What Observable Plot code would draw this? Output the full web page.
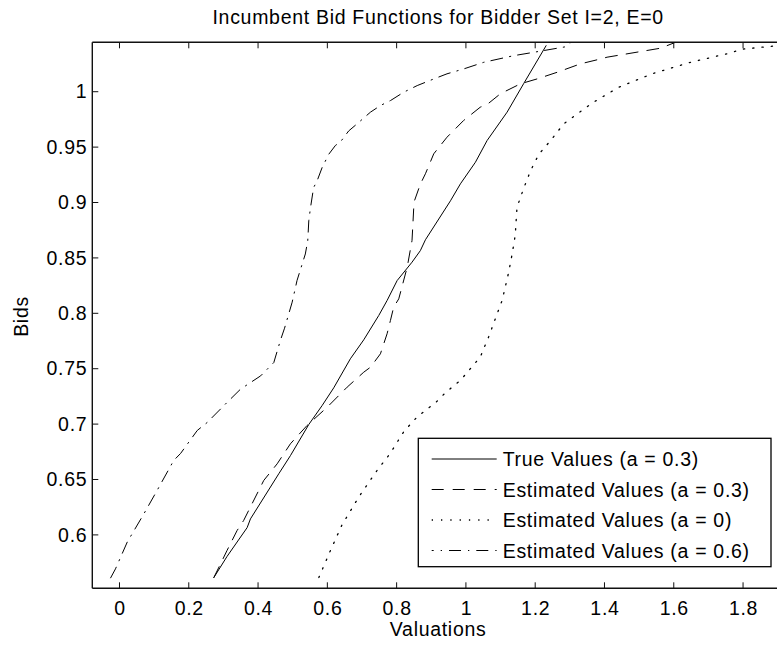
<!DOCTYPE html>
<html>
<head>
<meta charset="utf-8">
<script src="https://cdn.jsdelivr.net/npm/d3@7"></script>
<script src="https://cdn.jsdelivr.net/npm/@observablehq/plot@0.6"></script>
<style>
  html, body { margin: 0; padding: 0; background: white; }
  svg text { letter-spacing: 0.7px; }
</style>
</head>
<body>
<div id="chart"></div>
<script>
const titleText = "Incumbent Bid Functions for Bidder Set I=2, E=0";
const xLabel = "Valuations";
const yLabel = "Bids";
const xTicks = [0, 0.2, 0.4, 0.6, 0.8, 1, 1.2, 1.4, 1.6, 1.8];
const yTicks = [0.6, 0.65, 0.7, 0.75, 0.8, 0.85, 0.9, 0.95, 1];
const xDomain = [-0.0785, 1.898];
const yDomain = [0.5518, 1.0446];

const seriesNames = ["True Values (a = 0.3)", "Estimated Values (a = 0.3)", "Estimated Values (a = 0)", "Estimated Values (a = 0.6)"];
const seriesDash = ["none", "12,9", "1.3,8", "12,7,1.3,7"];
const seriesWidth = [1, 1, 1.3, 1];
const legendDashOffset = [0, 0, 0, 10];

const trueX = [0.271, 0.309, 0.367, 0.3766, 0.4583, 0.492, 0.545, 0.5835, 0.617, 0.665, 0.7036, 0.747, 0.771, 0.800, 0.843, 0.867, 0.8817, 0.954, 0.9827, 1.026, 1.0597, 1.1174, 1.165, 1.230];
const trueY = [0.562, 0.581, 0.607, 0.6149, 0.6556, 0.672, 0.7001, 0.7172, 0.7332, 0.7594, 0.7765, 0.7985, 0.812, 0.830, 0.8466, 0.857, 0.8668, 0.902, 0.9173, 0.9368, 0.9564, 0.982, 1.0076, 1.042];

const est03X = [0.271, 0.309, 0.338, 0.357, 0.415, 0.4537, 0.492, 0.540, 0.598, 0.6557, 0.7036, 0.723, 0.7518, 0.771, 0.7807, 0.790, 0.8047, 0.829, 0.843, 0.848, 0.850, 0.867, 0.8817, 0.9057, 0.944, 0.992, 1.040, 1.0597, 1.098, 1.156, 1.204, 1.262, 1.329, 1.387, 1.406, 1.560, 1.60];
const est03Y = [0.562, 0.5864, 0.6044, 0.6135, 0.6496, 0.6646, 0.6827, 0.6992, 0.7157, 0.7338, 0.7473, 0.7518, 0.7639, 0.782, 0.794, 0.806, 0.8135, 0.842, 0.8662, 0.896, 0.902, 0.917, 0.9264, 0.9444, 0.9594, 0.9745, 0.9865, 0.9889, 0.9986, 1.0076, 1.012, 1.018, 1.0256, 1.030, 1.0316, 1.0397, 1.0446];

const est0X = [0.574, 0.607, 0.640, 0.690, 0.742, 0.780, 0.820, 0.858, 0.915, 0.940, 0.983, 1.040, 1.064, 1.087, 1.103, 1.122, 1.132, 1.141, 1.146, 1.156, 1.165, 1.185, 1.209, 1.242, 1.281, 1.320, 1.367, 1.440, 1.464, 1.540, 1.647, 1.752, 1.800, 1.898];
const est0Y = [0.562, 0.586, 0.609, 0.635, 0.6586, 0.674, 0.694, 0.707, 0.721, 0.729, 0.740, 0.761, 0.779, 0.7985, 0.812, 0.8375, 0.854, 0.871, 0.896, 0.905, 0.913, 0.929, 0.944, 0.956, 0.9715, 0.9805, 0.991, 1.0045, 1.0076, 1.017, 1.027, 1.0347, 1.039, 1.042];

const est06X = [-0.027, -0.013, 0.021, 0.069, 0.107, 0.155, 0.175, 0.223, 0.252, 0.309, 0.348, 0.406, 0.444, 0.463, 0.475, 0.497, 0.511, 0.535, 0.542, 0.545, 0.550, 0.559, 0.569, 0.5835, 0.6026, 0.622, 0.636, 0.660, 0.6845, 0.723, 0.752, 0.781, 0.819, 0.858, 0.906, 0.944, 0.992, 1.05, 1.1365, 1.194, 1.286, 1.30];
const est06Y = [0.5617, 0.5698, 0.594, 0.6195, 0.6405, 0.6676, 0.674, 0.6947, 0.702, 0.720, 0.732, 0.744, 0.756, 0.776, 0.787, 0.8105, 0.830, 0.854, 0.866, 0.884, 0.896, 0.914, 0.920, 0.932, 0.944, 0.952, 0.955, 0.965, 0.9715, 0.982, 0.988, 0.9925, 1.0, 1.006, 1.012, 1.0166, 1.021, 1.027, 1.033, 1.036, 1.041, 1.0446];

const seriesX = [trueX, est03X, est0X, est06X];
const seriesY = [trueY, est03Y, est0Y, est06Y];

const FONT = "'Liberation Sans', Arial, Helvetica, sans-serif";
const FS = 19.5;

const lineMarks = seriesX.map((xs, i) =>
  Plot.line(xs.map((x, j) => ({x, y: seriesY[i][j]})), {
    x: "x", y: "y", stroke: "black", strokeWidth: seriesWidth[i],
    strokeDasharray: seriesDash[i], clip: true
  })
);

const plot = Plot.plot({
  width: 777,
  height: 645,
  marginLeft: 92.3,
  marginRight: 0,
  marginTop: 42.3,
  marginBottom: 56.7,
  style: {fontFamily: FONT, fontSize: FS + "px", background: "white", color: "black", overflow: "visible"},
  x: {domain: xDomain, label: null},
  y: {domain: yDomain, label: null},
  marks: [
    ...lineMarks,
    Plot.axisX({ticks: xTicks, tickSize: 0, tickPadding: 12.5, tickFormat: d => String(d), fontSize: FS, label: null}),
    Plot.axisY({ticks: yTicks, tickSize: 0, tickPadding: 5.5, tickFormat: d => String(d), fontSize: FS, label: null})
  ]
});

document.getElementById("chart").appendChild(plot);

const svg = d3.select(plot);
const sx = plot.scale("x").apply;
const sy = plot.scale("y").apply;
const boxLeft = sx(xDomain[0]), boxRight = 777;
const boxTop = sy(yDomain[1]), boxBottom = sy(yDomain[0]);
const g = svg.append("g").attr("stroke", "#111").attr("fill", "none");

// axes box (top, bottom, left)
g.append("line").attr("x1", boxLeft).attr("x2", boxRight).attr("y1", boxTop).attr("y2", boxTop).attr("stroke-width", 1.4);
g.append("line").attr("x1", boxLeft).attr("x2", boxRight).attr("y1", boxBottom).attr("y2", boxBottom).attr("stroke-width", 1.4);
g.append("line").attr("x1", boxLeft).attr("x2", boxLeft).attr("y1", boxTop).attr("y2", boxBottom).attr("stroke-width", 1.4);

// inward ticks
const TL = 6;
xTicks.forEach(v => {
  const px = sx(v);
  g.append("line").attr("x1", px).attr("x2", px).attr("y1", boxBottom).attr("y2", boxBottom - TL).attr("stroke-width", 1);
  g.append("line").attr("x1", px).attr("x2", px).attr("y1", boxTop).attr("y2", boxTop + TL).attr("stroke-width", 1);
});
yTicks.forEach(v => {
  const py = sy(v);
  g.append("line").attr("x1", boxLeft).attr("x2", boxLeft + TL).attr("y1", py).attr("y2", py).attr("stroke-width", 1);
});

const cx = (boxLeft + 784) / 2;
// title
svg.append("text").attr("x", cx).attr("y", 24).attr("text-anchor", "middle")
  .attr("font-family", FONT).attr("font-size", FS).attr("fill", "black").text(titleText);
// x label
svg.append("text").attr("x", cx).attr("y", 636).attr("text-anchor", "middle")
  .attr("font-family", FONT).attr("font-size", FS).attr("fill", "black").text(xLabel);
// y label
svg.append("text").attr("transform", "translate(28,316.5) rotate(-90)").attr("text-anchor", "middle")
  .attr("font-family", FONT).attr("font-size", FS).attr("fill", "black").text(yLabel);

// legend
const lg = svg.append("g");
lg.append("rect").attr("x", 418.3).attr("y", 438.3).attr("width", 771 - 418.3).attr("height", 566.7 - 438.3)
  .attr("fill", "white").attr("stroke", "black").attr("stroke-width", 1.3);
const rowY = [459, 489.5, 520, 550.5];
seriesNames.forEach((name, i) => {
  lg.append("line").attr("x1", 431.7).attr("x2", 496.7).attr("y1", rowY[i]).attr("y2", rowY[i])
    .attr("stroke", "black").attr("stroke-width", seriesWidth[i])
    .attr("stroke-dasharray", seriesDash[i]).attr("stroke-dashoffset", legendDashOffset[i]);
  lg.append("text").attr("x", 502.7).attr("y", rowY[i]).attr("dy", "0.36em").attr("text-anchor", "start")
    .attr("font-family", FONT).attr("font-size", FS).attr("fill", "black").text(name);
});
</script>
</body>
</html>
